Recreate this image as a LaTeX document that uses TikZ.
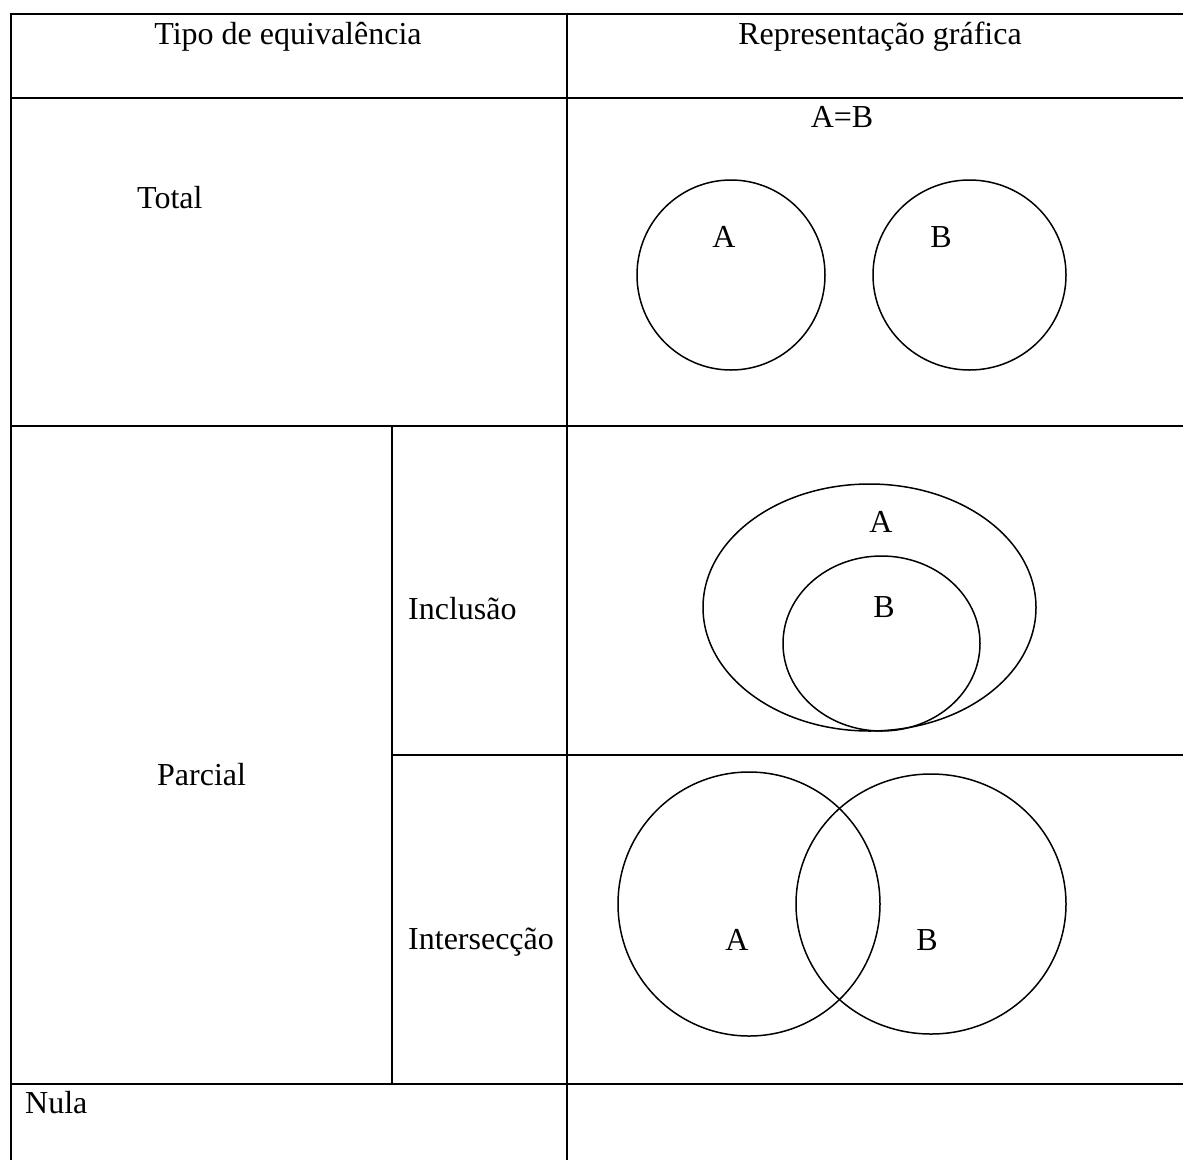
\documentclass[tikz,border=0pt]{standalone}
\usepackage{fontspec}
\setmainfont{Liberation Serif}
\begin{document}
\begin{tikzpicture}[x=1pt,y=-1pt,
  rule/.style={line width=1.6pt},
  ring/.style={line width=1.5pt},
  txt/.style={inner sep=0pt,font=\fontsize{32}{38}\selectfont},
  lbl/.style={txt,anchor=base},
  lft/.style={txt,anchor=base west}]
\useasboundingbox (0,0) rectangle (1183,1160);
% table rules
\draw[rule] (11,1160) -- (11,14) -- (1183,14);
\draw[rule] (11,98) -- (1183,98);
\draw[rule] (11,426) -- (1183,426);
\draw[rule] (392,755) -- (1183,755);
\draw[rule] (11,1084) -- (1183,1084);
\draw[rule] (567,14) -- (567,1160);
\draw[rule] (392,426) -- (392,1084);
% header
\node[lbl] (h1) at (288,44) {Tipo de equival\^encia};
\node[lbl] (h2) at (880,44) {Representa\c{c}\~ao gr\'afica};
% total row
\node[lft] (tot) at (137,208) {Total};
\node[lbl] (eq) at (842,127) {A=B};
\draw[ring] (731,275) ellipse [x radius=94,y radius=95];
\draw[ring] (969.5,275) ellipse [x radius=96.5,y radius=95];
\node[lbl] (ta) at (724,247) {A};
\node[lbl] (tb) at (941,247) {B};
% partial rows
\node[lft] (par) at (157,785) {Parcial};
\node[lft] (inc) at (408,619) {Inclus\~ao};
\node[lft] (int) at (408,949) {Intersec\c{c}\~ao};
\draw[ring] (869.5,607.5) ellipse [x radius=166.5,y radius=123.5];
\draw[ring] (881.5,643.5) ellipse [x radius=98.5,y radius=87.5];
\node[lbl] (ia) at (881,532) {A};
\node[lbl] (ib) at (884,617) {B};
\draw[ring] (749,904) ellipse [x radius=131,y radius=132];
\draw[ring] (931,904) ellipse [x radius=135,y radius=130];
\node[lbl] (xa) at (737,950) {A};
\node[lbl] (xb) at (927,950) {B};
% null row
\node[lft] (nul) at (25,1113) {Nula};
\end{tikzpicture}
\end{document}
